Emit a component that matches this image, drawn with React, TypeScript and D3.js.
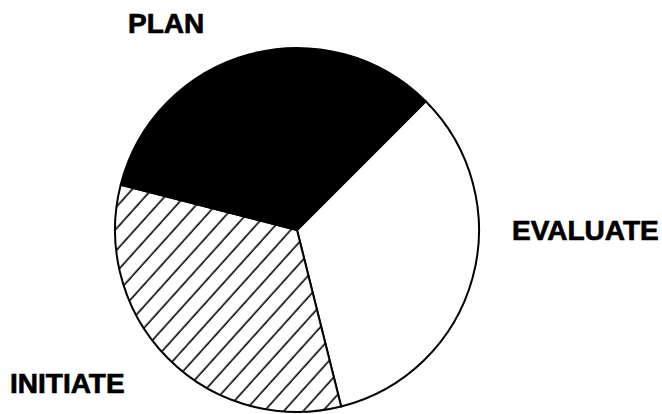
import React from "react";
import * as d3 from "d3";

const categories = ["EVALUATE", "INITIATE", "PLAN"];
const shares = [33.6, 32.9, 33.5];
const fills = ["white", "url(#hatch)", "black"];

const W = 662;
const H = 414;
const CX = 297;
const CY = 230;
const R = 182;
const START_DEG = 45;

const labelPos: Record<string, { x: number; y: number }> = {
  PLAN: { x: 128, y: 33 },
  EVALUATE: { x: 512, y: 240 },
  INITIATE: { x: 10, y: 393 },
};

export default function App() {
  React.useEffect(() => {
    document.body.style.margin = "0";
  }, []);
  const data = categories.map((c, i) => ({ name: c, value: shares[i], fill: fills[i] }));
  const start = (START_DEG * Math.PI) / 180;
  const pie = d3
    .pie<any>()
    .sort(null)
    .value((d: any) => d.value)
    .startAngle(start)
    .endAngle(start + 2 * Math.PI);
  const arcs = pie(data);
  const arc = d3.arc<any>().innerRadius(0).outerRadius(R);

  return (
    <svg width={W} height={H} style={{ display: "block", position: "absolute", left: 0, top: 0, background: "white" }}>
      <defs>
        <pattern id="hatch" patternUnits="userSpaceOnUse" width={14.5} height={14.5} patternTransform="rotate(42)">
          <rect width={14.5} height={14.5} fill="white" />
          <line x1={9.9} y1={-1} x2={9.9} y2={15.5} stroke="black" strokeWidth={1.6} />
        </pattern>
      </defs>
      <g transform={`translate(${CX},${CY})`}>
        {arcs.map((a, i) => (
          <path key={i} d={arc(a) as string} fill={a.data.fill} stroke="black" strokeWidth={2} strokeLinejoin="round" />
        ))}
      </g>
      {categories.map((c) => (
        <text
          key={c}
          x={labelPos[c].x}
          y={labelPos[c].y}
          fontFamily="'Liberation Sans', Arial, sans-serif"
          fontWeight="bold"
          fontSize={28}
          fill="black"
          stroke="black"
          strokeWidth={0.7}
        >
          {c}
        </text>
      ))}
    </svg>
  );
}
